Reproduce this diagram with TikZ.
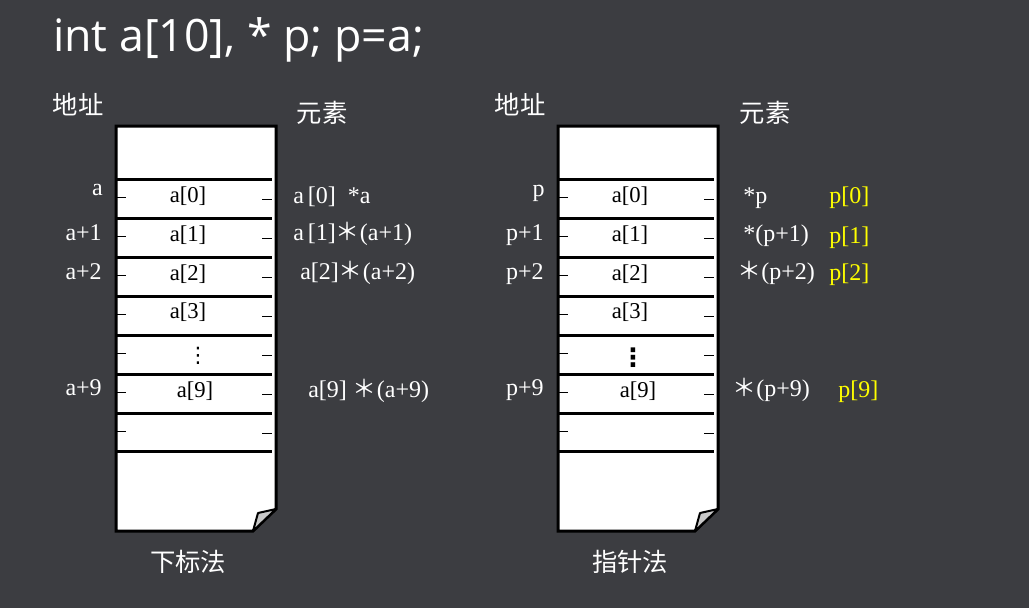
\documentclass[tikz,border=0pt]{standalone}
\usepackage{fontspec}
\setmainfont{Liberation Serif}
\newfontfamily\cjk{Noto Sans CJK SC}
\newfontfamily\titlefont{Open Sans}
\newfontfamily\dejavu{DejaVu Sans}
\definecolor{bg}{HTML}{3C3D41}
\definecolor{foldgray}{HTML}{C8C8C8}
\definecolor{ylw}{HTML}{FFFF00}
\newcommand{\fw}[1]{{\cjk #1}}
\begin{document}
\begin{tikzpicture}[x=0.75pt,y=-0.75pt,
  cell/.style={font=\fontsize{17}{17}\selectfont, text=black, anchor=base, inner sep=0pt},
  dots/.style={font=\dejavu\fontsize{16}{16}\selectfont, text=black, anchor=center, inner sep=0pt},
  lbl/.style={font=\fontsize{18}{18}\selectfont, text=white, inner sep=0pt},
  addr/.style={lbl, anchor=base east},
  elem/.style={lbl, anchor=base west},
  yel/.style={lbl, text=ylw, anchor=base west},
  hd/.style={font=\cjk\fontsize{19}{19}\selectfont, text=white, inner sep=0pt},
  boxline/.style={draw=black, line width=2.25pt},
  sepline/.style={draw=black, line width=2.25pt},
  tickline/.style={draw=black, line width=0.75pt},
  foldtri/.style={fill=foldgray, draw=black, line width=1.5pt, line join=round}]
\fill[bg] (0,0) rectangle (1029,608);
\useasboundingbox (0,0) rectangle (1029,608);

% title
\node[font=\titlefont\fontsize{33.5}{33.5}\selectfont, text=white, anchor=base west, inner sep=0pt] (title) at (53,51) {int a[10], * p; p=a;};

% boxes
\foreach \dx/\nm in {0/L,442/R}{
  \begin{scope}[shift={(116+\dx,0)}]
    \path[boxline, fill=white, line join=miter] (0,126) -- (160,126) -- (160,509) -- (137,531) -- (0,531) -- cycle;
    \path[foldtri] (137,531) -- (142,513) -- (160,509) -- cycle;
    \foreach \y in {179,218,257,296,335,374,413,451}
      \path[sepline] (0,\y) -- (156,\y);
    \foreach \y in {197,236,275,314,353,392,431}
      \path[tickline] (1,\y) -- (10,\y);
    \foreach \y in {199,238,277,316,355,394,433}
      \path[tickline] (146,\y) -- (156,\y);
  \end{scope}
}

% ---- left: subscript method ----
\node[hd] (hdaL) at (78,105) {地址};
\node[hd] (hdeL) at (322,113) {元素};
\node[cell] (cL0) at (188,202) {a[0]};
\node[cell] (cL1) at (188,241) {a[1]};
\node[cell] (cL2) at (188,280) {a[2]};
\node[cell] (cL3) at (188,318) {a[3]};
\node[dots] (cLd) at (198,356) {⋮};
\node[cell] (cL9) at (195,397) {a[9]};
\node[addr] (aL0) at (103,195) {a};
\node[addr] (aL1) at (102,240) {a+1};
\node[addr] (aL2) at (102,279) {a+2};
\node[addr] (aL9) at (102,395) {a+9};
\node[elem] (eL0) at (293,203) {a\,[0]\ \ *a};
\node[elem] (eL1) at (293,240) {a\,[1]\fw{＊}(a+1)};
\node[elem] (eL2) at (300,279) {a[2]\fw{＊}(a+2)};
\node[elem] (eL9) at (308,397) {a[9] \fw{＊}(a+9)};
\node[hd] (mL) at (188,562) {下标法};

% ---- right: pointer method ----
\node[hd] (hdaR) at (520,105) {地址};
\node[hd] (hdeR) at (765,113) {元素};
\node[cell] (cR0) at (630,202) {a[0]};
\node[cell] (cR1) at (630,241) {a[1]};
\node[cell] (cR2) at (630,280) {a[2]};
\node[cell] (cR3) at (630,318) {a[3]};
\node[dots, font=\dejavu\bfseries\fontsize{19}{19}\selectfont] (cRd) at (633,358) {⋮};
\node[cell] (cR9) at (638,397) {a[9]};
\node[addr] (aR0) at (545,196) {p};
\node[addr] (aR1) at (544,240) {p+1};
\node[addr] (aR2) at (544,279) {p+2};
\node[addr] (aR9) at (544,395) {p+9};
\node[elem] (eR0) at (743,203) {*p};
\node[elem] (eR1) at (743,241) {*(p+1)};
\node[elem] (eR2) at (737,279) {\fw{＊}(p+2)};
\node[elem] (eR9) at (732,396) {\fw{＊}(p+9)};
\node[yel] (yR0) at (829,203) {p[0]};
\node[yel] (yR1) at (829,243) {p[1]};
\node[yel] (yR2) at (829,280) {p[2]};
\node[yel] (yR9) at (838,397) {p[9]};
\node[hd] (mR) at (630,562) {指针法};
\end{tikzpicture}
\end{document}
